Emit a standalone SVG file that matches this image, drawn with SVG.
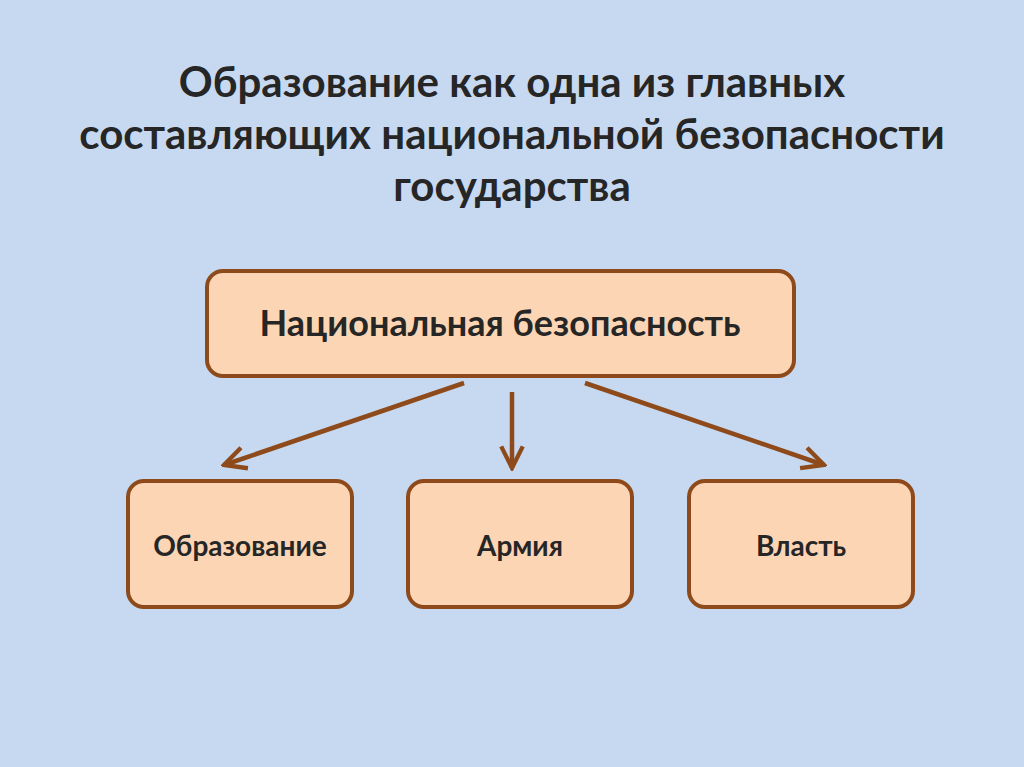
<svg xmlns="http://www.w3.org/2000/svg" width="1024" height="767" viewBox="0 0 1024 767">
<style>
text{font-family:Lato,"Noto Sans",sans-serif;font-weight:bold;fill:#262626;text-anchor:middle}
.box{fill:#FCD5B4;stroke:#8E4A1A;stroke-width:4}
.c{stroke:#8E4A1A;stroke-width:4.5;fill:none;marker-end:url(#a)}
</style>
<defs><marker id="a" viewBox="0 0 10 10" refX="9" refY="5" markerWidth="6" markerHeight="6" orient="auto" markerUnits="strokeWidth"><path d="M1,1 L9,5 L1,9" fill="none" stroke="#8E4A1A" stroke-width="1.6"/></marker></defs>
<rect width="1024" height="767" fill="#C6D9F1"/>
<g id="title" font-size="42"><text x="512" y="97">Образование как одна из главных</text><text x="512" y="149">составляющих национальной безопасности</text><text x="512" y="201">государства</text></g>
<g id="n0"><rect class="box" x="207" y="271" width="587" height="105" rx="16"/><text x="500" y="336" font-size="36">Национальная безопасность</text></g>
<g id="n1"><rect class="box" x="128" y="481" width="224" height="126" rx="16"/><text x="240" y="556" font-size="28">Образование</text></g>
<g id="n2"><rect class="box" x="408" y="481" width="224" height="126" rx="16"/><text x="520" y="556" font-size="28">Армия</text></g>
<g id="n3"><rect class="box" x="689" y="481" width="224" height="126" rx="16"/><text x="801" y="556" font-size="28">Власть</text></g>
<g id="connectors"><line class="c" x1="464" y1="383" x2="224" y2="465"/><line class="c" x1="512" y1="392" x2="512" y2="468"/><line class="c" x1="585" y1="383" x2="824" y2="465"/></g>
</svg>
